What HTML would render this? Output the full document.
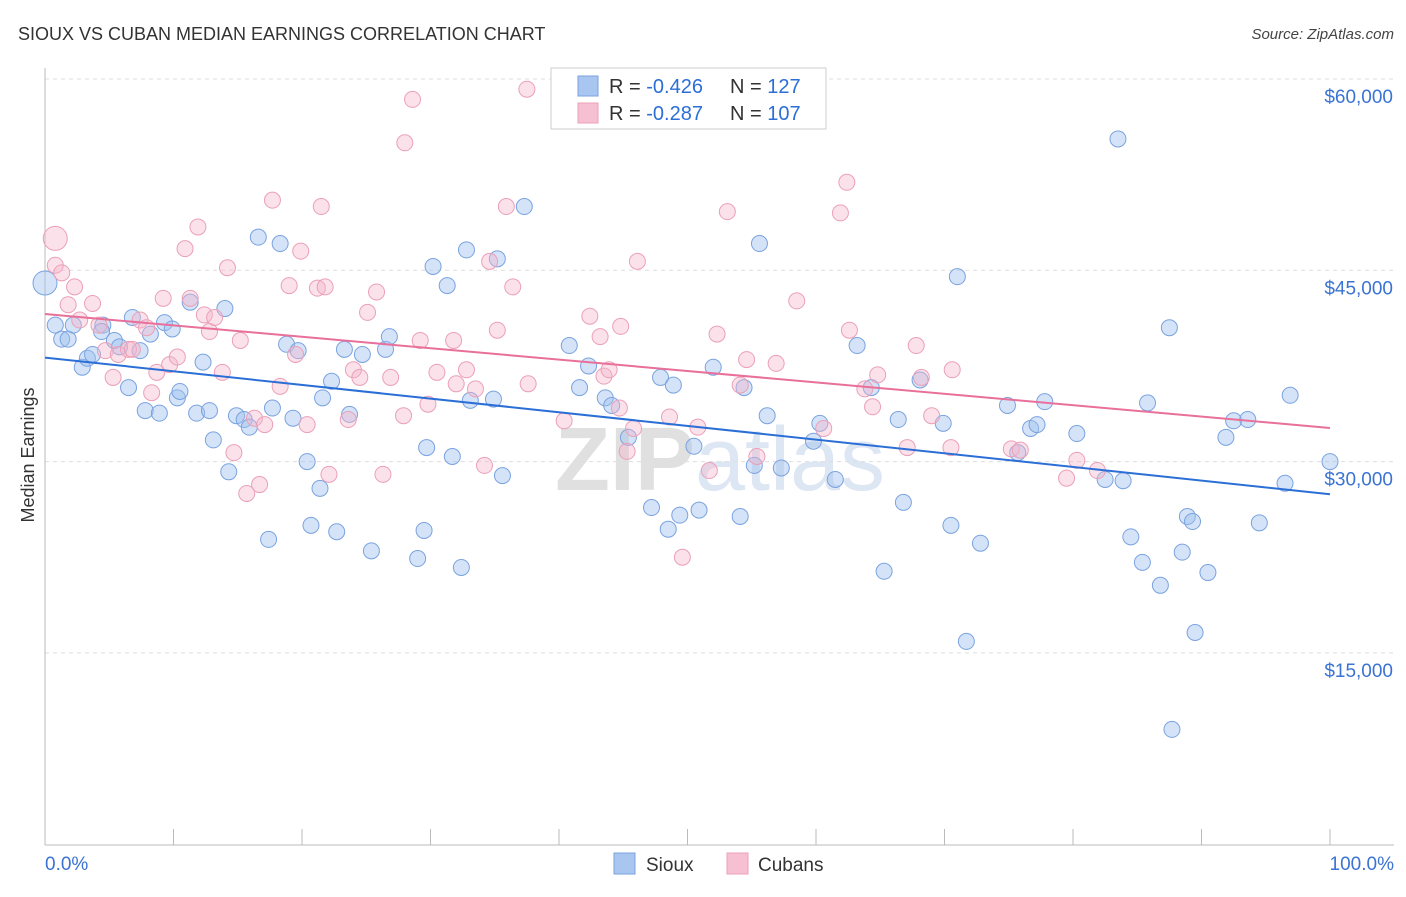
<!DOCTYPE html>
<html><head><meta charset="utf-8"><style>
body{margin:0;background:#fff;font-family:"Liberation Sans",sans-serif;}
svg text{font-family:"Liberation Sans",sans-serif;}
</style></head><body>
<svg id="chart" width="1406" height="892" xmlns="http://www.w3.org/2000/svg">
<text x="18" y="40" font-size="18" fill="#333">SIOUX VS CUBAN MEDIAN EARNINGS CORRELATION CHART</text>
<text x="1394" y="39" font-size="15" fill="#444" text-anchor="end" font-style="italic">Source: ZipAtlas.com</text>
<text x="720" y="490" font-size="90" fill="#e6e6e6" text-anchor="middle" font-family="Liberation Serif"><tspan fill="#e0e0e0" font-weight="bold">ZIP</tspan><tspan fill="#dde6f3" font-family="Liberation Sans">atlas</tspan></text>
<g id="grid"></g>
<g id="axes"></g>
<g id="pts"></g>
<g id="trends"></g>
<text transform="translate(34,455) rotate(-90)" font-size="18" fill="#333" text-anchor="middle">Median Earnings</text>
<g>
<rect x="551" y="68" width="275" height="61" fill="#fff" stroke="#ccc"/>
<rect x="578" y="76" width="20" height="20" fill="#a9c6f0" stroke="#7aa3e0"/>
<rect x="578" y="103" width="20" height="20" fill="#f7c0d2" stroke="#eba0b8"/>
<text x="609" y="93" font-size="20" fill="#333">R = <tspan fill="#2b6fd6">-0.426</tspan></text>
<text x="730" y="93" font-size="20" fill="#333">N = <tspan fill="#2b6fd6">127</tspan></text>
<text x="609" y="120" font-size="20" fill="#333">R = <tspan fill="#2b6fd6">-0.287</tspan></text>
<text x="730" y="120" font-size="20" fill="#333">N = <tspan fill="#2b6fd6">107</tspan></text>
</g>
<g>
<rect x="614" y="853" width="21" height="21" fill="#a9c6f0" stroke="#7aa3e0"/>
<text x="646" y="871" font-size="19" fill="#333">Sioux</text>
<rect x="727" y="853" width="21" height="21" fill="#f7c0d2" stroke="#eba0b8"/>
<text x="758" y="871" font-size="19" fill="#333">Cubans</text>
</g>
</svg>
<script>
const yTicks=[15000,30000,45000,60000];
const yTickLabels=["$15,000","$30,000","$45,000","$60,000"];
const xTickLabels=["0.0%","100.0%"];
const siouxX=[0,0.8,1.3,1.8,2.2,2.9,3.3,3.7,4.5,4.4,5.4,5.8,6.5,6.8,7.4,7.8,8.2,8.9,9.3,9.9,10.3,10.5,11.3,11.8,12.3,12.8,13.1,14.0,14.3,14.9,15.5,15.9,16.6,17.4,17.7,18.3,18.8,19.3,19.7,20.4,20.7,21.4,21.6,22.3,22.7,23.3,23.7,24.7,25.4,26.5,26.8,29.0,29.5,29.7,30.2,31.3,31.7,32.4,32.8,33.1,34.9,35.2,35.6,37.3,40.8,41.6,42.3,43.6,44.1,45.4,47.2,47.9,48.5,48.9,49.4,50.5,50.9,52.0,54.1,54.4,55.2,55.6,56.2,57.3,59.8,60.3,61.5,63.2,64.3,65.3,66.4,66.8,68.1,69.9,70.5,71.7,72.8,71.0,74.9,75.7,76.7,77.2,77.8,80.3,82.5,83.5,83.9,84.5,85.4,85.8,86.8,87.5,88.5,88.9,89.3,89.5,90.5,87.7,91.9,92.5,93.6,94.5,96.5,96.9,100];
const siouxY=[44.0,40.7,39.6,39.6,40.7,37.4,38.1,38.4,40.7,40.2,39.5,39.0,35.8,41.3,38.7,34.0,40.0,33.8,40.9,40.4,35.0,35.5,42.5,33.8,37.8,34.0,31.7,42.0,29.2,33.6,33.3,32.7,47.6,23.9,34.2,47.1,39.2,33.4,38.7,30.0,25.0,27.9,35.0,36.3,24.5,38.8,33.7,38.4,23.0,38.8,39.8,22.4,24.6,31.1,45.3,43.8,30.4,21.7,46.6,34.8,34.9,45.9,28.9,50.0,39.1,35.8,37.5,35.0,34.4,31.9,26.4,36.6,24.7,36.0,25.8,31.2,26.2,37.4,25.7,35.8,29.7,47.1,33.6,29.5,31.6,33.0,28.6,39.1,35.8,21.4,33.3,26.8,36.4,33.0,25.0,15.9,23.6,44.5,34.4,30.7,32.6,32.9,34.7,32.2,28.6,55.3,28.5,24.1,22.1,34.6,20.3,40.5,22.9,25.7,25.3,16.6,21.3,9.0,31.9,33.2,33.3,25.2,28.3,35.2,30.0];
const cubanX=[0.8,0.8,1.3,1.8,2.3,2.7,3.7,4.2,4.7,5.3,5.7,6.5,6.8,7.4,7.9,8.3,8.7,9.2,9.7,10.3,10.9,11.3,11.9,12.4,12.8,13.2,13.8,14.2,14.7,15.2,15.7,16.3,16.7,17.1,17.7,18.3,19.0,19.5,19.9,20.4,21.2,21.5,21.8,22.1,23.6,24.0,24.5,25.1,25.8,26.3,26.9,27.9,28.0,28.6,29.2,29.8,30.5,31.8,32.0,32.8,33.5,34.2,34.6,35.2,35.9,36.4,37.5,37.6,40.4,42.4,43.2,43.5,43.9,44.7,44.8,45.3,45.8,46.1,48.6,49.6,50.8,51.7,52.3,53.1,54.1,54.6,55.4,56.9,58.5,60.6,61.9,62.4,62.6,63.8,64.4,64.8,67.1,67.8,68.2,69.0,70.5,70.6,75.2,75.9,79.5,80.3,81.9];
const cubanY=[47.5,45.4,44.8,42.3,43.7,41.1,42.4,40.7,38.7,36.6,38.4,38.8,38.8,41.1,40.5,35.4,37.0,42.8,37.6,38.2,46.7,42.8,48.4,41.5,40.2,41.3,37.0,45.2,30.7,39.5,27.5,33.4,28.2,32.9,50.5,35.9,43.8,38.4,46.5,32.9,43.6,50.0,43.7,29.0,33.3,37.2,36.6,41.7,43.3,29.0,36.6,33.6,55.0,58.4,39.5,34.5,37.0,39.5,36.1,37.2,35.7,29.7,45.7,40.3,50.0,43.7,59.2,36.1,33.2,41.4,39.8,36.7,37.2,34.2,40.6,30.8,32.6,45.7,33.5,22.5,32.7,29.3,40.0,49.6,36.0,38.0,30.4,37.7,42.6,32.6,49.5,51.9,40.3,35.7,34.3,36.8,31.1,39.1,36.6,33.6,31.1,37.2,31.0,30.9,28.7,30.1,29.3];

const NS="http://www.w3.org/2000/svg";
const X0=45,X1=1330,YTOP=79,PX_PER=191.3/15000;
const xs=v=>X0+(X1-X0)*v/100;
const ys=v=>YTOP+(60000-v)*PX_PER;
function mk(tag,attrs,parent){const e=document.createElementNS(NS,tag);for(const k in attrs)e.setAttribute(k,attrs[k]);parent.appendChild(e);return e;}
const grid=document.getElementById('grid'),axes=document.getElementById('axes'),pts=document.getElementById('pts'),tr=document.getElementById('trends');
yTicks.forEach((t,i)=>{
 const l=mk('line',{x1:45,x2:1394,y1:ys(t),y2:ys(t),stroke:'#ddd','stroke-dasharray':'4,4'},grid);
 
 
 const tx=mk('text',{x:1393,y:ys(t)+24,'font-size':19,fill:'#3b73d3','text-anchor':'end'},grid);
 tx.textContent=yTickLabels[i];
 
 
});
const ya=mk('line',{x1:45,x2:45,y1:68,y2:845,stroke:'#bbb'},axes);


const xa=mk('line',{x1:45,x2:1394,y1:845,y2:845,stroke:'#bbb'},axes);


for(let i=0;i<=10;i++){
 const t=mk('line',{x1:xs(i*10),x2:xs(i*10),y1:829,y2:845,stroke:'#bbb'},axes);
 
 
}
const xl0=mk('text',{x:45,y:870,'font-size':19,fill:'#3b73d3'},axes);xl0.textContent=xTickLabels[0];


const xl1=mk('text',{x:1394,y:870,'font-size':19,fill:'#3b73d3','text-anchor':'end'},axes);xl1.textContent=xTickLabels[1];



function series(X,Y,fill,stroke,name){
 X.forEach((x,i)=>{
  const big=(x<1.5&&i===0);
  const c=mk('circle',{cx:xs(x),cy:ys(Y[i]*1000),r:big?12:8,fill:fill,stroke:stroke,'stroke-width':1},pts);
  
  
 });
}
series(siouxX,siouxY,'rgba(160,192,238,0.45)','#7aa3e0','sioux');
series(cubanX,cubanY,'rgba(246,180,202,0.4)','#eba0b8','cuban');

function trend(X,Y,color,name){
 const n=X.length;let mx=0,my=0;X.forEach((x,i)=>{mx+=x;my+=Y[i];});mx/=n;my/=n;
 let sxy=0,sxx=0;X.forEach((x,i)=>{sxy+=(x-mx)*(Y[i]-my);sxx+=(x-mx)*(x-mx);});
 const b=sxy/sxx,a=my-b*mx;
 const l=mk('line',{x1:xs(0),y1:ys((a)*1000),x2:xs(100),y2:ys((a+b*100)*1000),stroke:color,'stroke-width':2},tr);
 
 
}
trend(siouxX,siouxY,'#2b6fd6','sioux');
trend(cubanX,cubanY,'#e8709a','cuban');
</script>
</body></html>
